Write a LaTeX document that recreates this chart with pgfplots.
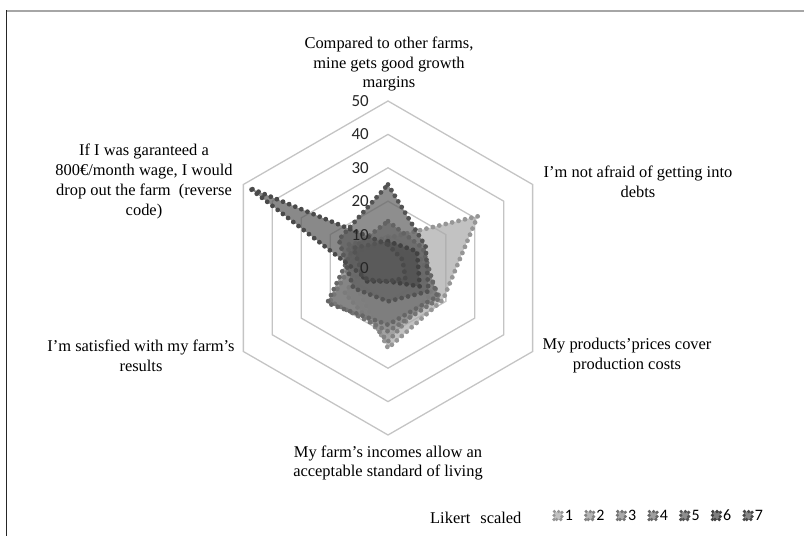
\documentclass[border=0pt]{standalone}
\usepackage{pgfplots}
\pgfplotsset{compat=1.18}
\usepackage{fontspec}
\setmainfont{Liberation Serif}
\newfontfamily\numfont{Carlito}
\definecolor{c1}{HTML}{ABABAB}
\definecolor{c2}{HTML}{9A9A9A}
\definecolor{c3}{HTML}{888888}
\definecolor{c4}{HTML}{787878}
\definecolor{c5}{HTML}{626262}
\definecolor{c6}{HTML}{4E4E4E}
\definecolor{c7}{HTML}{5C5C5C}
\definecolor{gridc}{HTML}{C4C4C4}
\begin{document}
\begin{tikzpicture}
\path[use as bounding box] (0bp,0bp) rectangle (804bp,536bp);
\draw[gray!70, line width=1.1bp] (6.5bp,525bp) -- (804bp,525bp);
\draw[black!85, line width=1.2bp] (6.5bp,0bp) -- (6.5bp,525.5bp);
\begin{axis}[
  at={(388bp,268bp)}, anchor=center,
  width=400.8bp, height=400.8bp, scale only axis,
  xmin=-60, xmax=60, ymin=-60, ymax=60,
  axis lines=none, clip=false,
  data cs=polar,
  dots/.style={draw=#1, line width=4.8bp, line cap=round, line join=round, dash pattern=on 0pt off 6.6bp, fill opacity=0.72, draw opacity=1},
  legend style={at={(axis description cs:0.9092,-0.1188)}, anchor=west, draw=none, fill=none,
    font=\numfont\fontsize{16}{16}\selectfont, inner sep=0pt,
    nodes={inner sep=1bp},
    /tikz/every even column/.append style={column sep=10bp}},
  legend columns=-1,
  legend image code/.code={\draw[#1, line width=3.6bp, dash pattern=on 0pt off 4.2bp] (0bp,-3.5bp) rectangle (8bp,4.5bp);},
]
% hexagonal grid
\foreach \r in {10,20,30,40,50}{
  \edef\temp{\noexpand\addplot[draw=gridc, line width=1.3bp, line join=miter, fill=none, forget plot]
    coordinates {(90,\r) (30,\r) (-30,\r) (-90,\r) (210,\r) (150,\r) (90,\r) (30,\r)};}
  \temp
}
% series: axes order top, upper right, lower right, bottom, lower left, upper left
\addplot[dots=c1!88!black, fill=c1] coordinates {(90,9) (30,31) (-30,19) (-90,24) (210,11) (150,14) (90,9)};
\addlegendentry{1}
\addplot[dots=c2!85!black, fill=c2] coordinates {(90,6) (30,8) (-30,15) (-90,22) (210,15) (150,6) (90,6)};
\addlegendentry{2}
\addplot[dots=c3!85!black, fill=c3] coordinates {(90,8) (30,10) (-30,18) (-90,19) (210,20) (150,10) (90,8)};
\addlegendentry{3}
\addplot[dots=c4!85!black, fill=c4] coordinates {(90,14) (30,12) (-30,17) (-90,17) (210,21) (150,12) (90,14)};
\addlegendentry{4}
\addplot[dots=c5!85!black, fill=c5] coordinates {(90,25) (30,13) (-30,14) (-90,10) (210,12) (150,17) (90,25)};
\addlegendentry{5}
\addplot[dots=c6!85!black, fill=c6] coordinates {(90,8) (30,10) (-30,11) (-90,4) (210,8) (150,12) (90,8)};
\addlegendentry{6}
\addplot[dots=c7!80!black, fill=c7] coordinates {(90,7) (30,5) (-30,6) (-90,4) (210,7) (150,48) (90,7)};
\addlegendentry{7}
% radial tick labels
\foreach \v in {0,10,20,30,40,50}{
  \edef\temp{\noexpand\node[anchor=east, inner sep=0pt, font=\noexpand\numfont\noexpand\fontsize{17}{17}\noexpand\selectfont, text=black!85] at (axis cs:-5.7,\v) {\v};}
  \temp
}
\end{axis}
\begin{scope}[every node/.style={align=center, font=\fontsize{16.5}{20}\selectfont, inner sep=0pt}]
\node at (389bp,472bp) {Compared to other farms,\\ mine gets good growth\\ margins};
\node at (638bp,354bp) {I'm not afraid of getting into\\ debts};
\node at (627bp,180bp) {My products'prices cover\\ production costs};
\node at (388bp,73bp) {My farm's incomes allow an\\ acceptable standard of living};
\node at (141bp,180.5bp) {I'm satisfied with my farm's\\ results};
\node at (144bp,354.5bp) {If I was garanteed a\\ 800€/month wage, I would\\ drop out the farm\ \ (reverse\\ code)};
\node[anchor=west] at (430bp,18bp) {Likert\hspace{10bp}scaled};
\end{scope}
\end{tikzpicture}
\end{document}
